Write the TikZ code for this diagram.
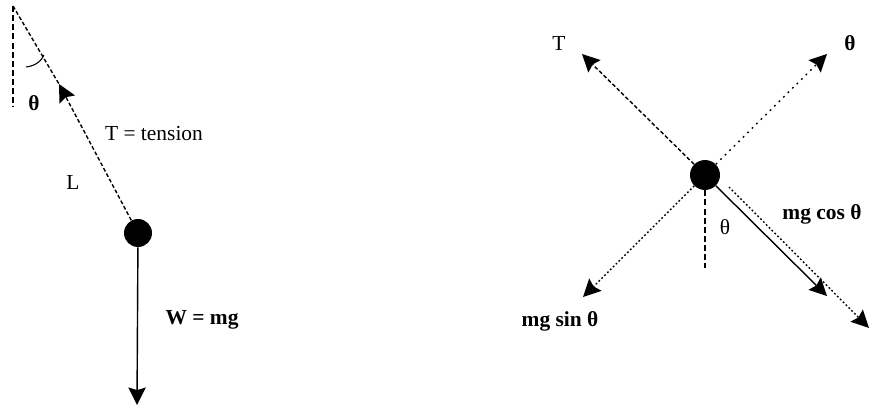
\documentclass[tikz,border=0pt]{standalone}
\usepackage{fontspec}
\setmainfont{Liberation Serif}
\usetikzlibrary{arrows.meta}
\tikzset{
bob/.style={circle,fill=black,inner sep=0pt,minimum size=#1},
pt/.style={inner sep=0pt,font=\fontsize{12.2}{14}\selectfont},
ptb/.style={inner sep=0pt,font=\fontsize{12.2}{14}\selectfont\bfseries},
tip/.style={-{Stealth[length=10pt,width=10pt,inset=1.5pt,line width=0pt]}},
force/.style={line width=0.8pt,tip},
cord/.style={line width=0.8pt,dash pattern=on 2.2pt off 1.3pt},
hint/.style={cord,tip},
faint/.style={line width=0.8pt,dash pattern=on 1pt off 2.6pt,tip},
dense/.style={line width=0.8pt,dash pattern=on 1pt off 1.3pt,tip},
guide/.style={line width=0.8pt,dash pattern=on 3.4pt off 1.8pt}
}
\begin{document}
\begin{tikzpicture}[x=0.02cm,y=0.02cm]
\useasboundingbox (0,0) rectangle (876,-406);
% left
\node [bob=0.56cm] (leftbob) at (138,-233) {};
\coordinate (pivot) at (13,-6);
\coordinate (leftbase) at (13,-107);
\coordinate (lefttip) at (137,-405);
\coordinate (tensiontip) at (59,-84);
\draw [guide] (pivot) -- (leftbase);
\draw [cord] (pivot) -- (tensiontip);
\draw [hint] (leftbob) -- (tensiontip);
\draw [line width=0.6pt] (26,-67) .. controls (36,-66) and (42,-60) .. (44,-55);
\draw [force] (leftbob) -- (lefttip);
\node [ptb] (angle) at (34,-103) {θ};
\node [pt] (tension) at (154,-134) {T = tension};
\node [pt] (length) at (73,-182) {L};
\node [ptb] (weight) at (202,-320) {W = mg};
% right
\node [bob=0.6cm] (rightbob) at (705,-175) {};
\coordinate (tup) at (582,-54);
\coordinate (thup) at (827,-54);
\coordinate (sindown) at (583,-297);
\coordinate (cosdown) at (827,-296);
\coordinate (axisdown) at (869,-328);
\coordinate (axisstart) at (729,-187);
\coordinate (rightbase) at (705,-268);
\draw [hint] (rightbob) -- (tup);
\draw [faint] (rightbob) -- (thup);
\draw [dense] (rightbob) -- (sindown);
\draw [force] (rightbob) -- (cosdown);
\draw [dense] (axisstart) -- (axisdown);
\draw [guide] (rightbob) -- (rightbase);
\node [pt] (tlabel) at (559,-43) {T};
\node [ptb] (thlabel) at (850,-43) {θ};
\node [pt] (thbelow) at (725,-227) {θ};
\node [ptb] (sinlabel) at (560,-321) {mg sin θ};
\node [ptb] (coslabel) at (822,-214) {mg cos θ};
\end{tikzpicture}
\end{document}
